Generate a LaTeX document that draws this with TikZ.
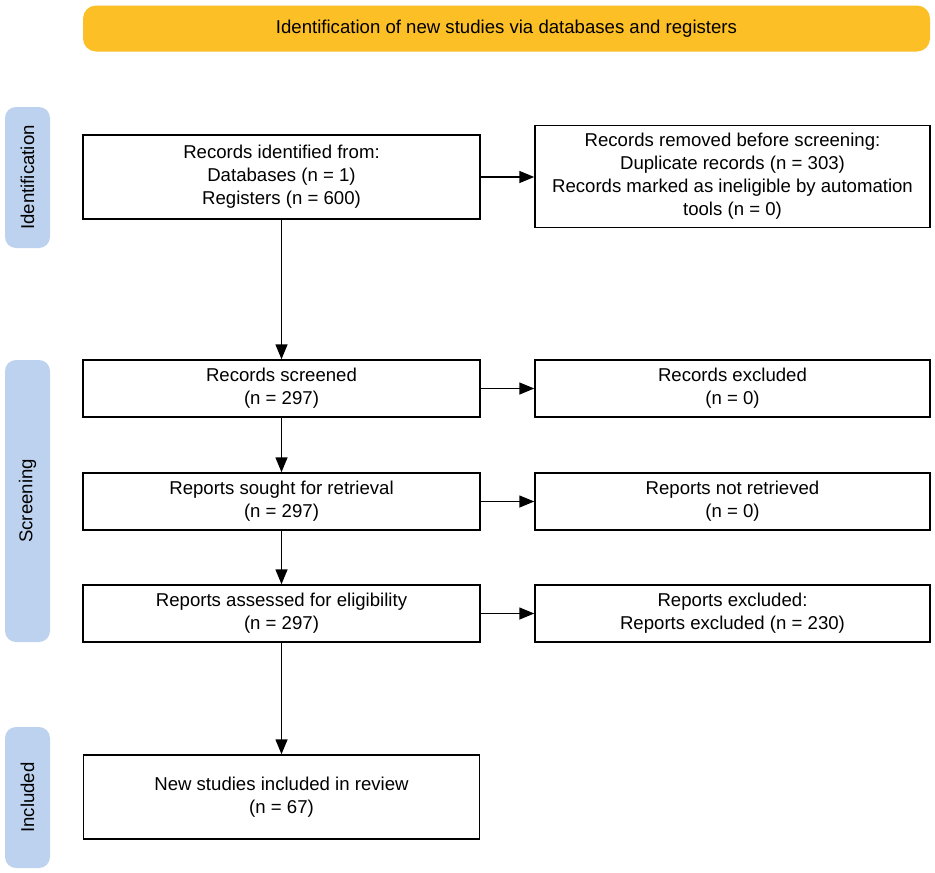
\documentclass[tikz,border=0pt]{standalone}
\usepackage{fontspec}
\setmainfont{Liberation Sans}
\usetikzlibrary{arrows.meta}
\definecolor{bannerc}{HTML}{FCBF26}
\definecolor{labc}{HTML}{BDD2EF}
\tikzset{
  box/.style={draw=black, line width=1.5pt, fill=white, align=center, inner sep=2pt,
    font=\fontsize{18.6}{23}\selectfont},
  banner/.style={fill=bannerc, rounded corners=13pt, align=center,
    font=\fontsize{18.6}{23}\selectfont, minimum width=847pt, minimum height=46pt},
  phase/.style={fill=labc, rounded corners=11pt, rotate=90, minimum height=45pt,
    font=\fontsize{18.6}{23}\selectfont},
  arr/.style={line width=1.5pt, -{Triangle[length=15pt,width=12pt]}}
}
\begin{document}
\begin{tikzpicture}[x=1pt, y=-1pt]
\useasboundingbox (0,0) rectangle (935,873);
\node[banner] (ban) at (506.5,28.5) {Identification of new studies via databases and registers};
\node[phase, minimum width=141pt] (pid) at (27.5,177.5) {Identification};
\node[phase, minimum width=282pt] (pscr) at (27.5,501) {Screening};
\node[phase, minimum width=141pt] (pinc) at (27.5,797.5) {Included};

\node[box, minimum width=397pt, minimum height=84pt] (b1) at (281.5,177) {Records identified from:\\Databases (n = 1)\\Registers (n = 600)};
\node[box, minimum width=395pt, minimum height=102pt] (rem) at (732.5,176.5) {Records removed before screening:\\Duplicate records (n = 303)\\Records marked as ineligible by automation\\tools (n = 0)};
\node[box, minimum width=397pt, minimum height=57pt] (scr) at (281.5,388.5) {Records screened\\(n = 297)};
\node[box, minimum width=395pt, minimum height=57pt] (exc) at (732.5,388.5) {Records excluded\\(n = 0)};
\node[box, minimum width=397pt, minimum height=57pt] (sou) at (281.5,501.5) {Reports sought for retrieval\\(n = 297)};
\node[box, minimum width=395pt, minimum height=57pt] (nre) at (732.5,501.5) {Reports not retrieved\\(n = 0)};
\node[box, minimum width=397pt, minimum height=57pt] (ass) at (281.5,613.5) {Reports assessed for eligibility\\(n = 297)};
\node[box, minimum width=395pt, minimum height=57pt] (rex) at (732.5,613.5) {Reports excluded:\\Reports excluded (n = 230)};
\node[box, minimum width=396pt, minimum height=84pt] (inc) at (281.5,797) {New studies included in review\\(n = 67)};

\draw[arr] (b1.east) -- (b1.east -| rem.west);
\draw[arr] (b1.south) -- (scr.north);
\draw[arr] (scr.east) -- (exc.west);
\draw[arr] (scr.south) -- (sou.north);
\draw[arr] (sou.east) -- (nre.west);
\draw[arr] (sou.south) -- (ass.north);
\draw[arr] (ass.east) -- (rex.west);
\draw[arr] (ass.south) -- (inc.north);
\end{tikzpicture}
\end{document}
